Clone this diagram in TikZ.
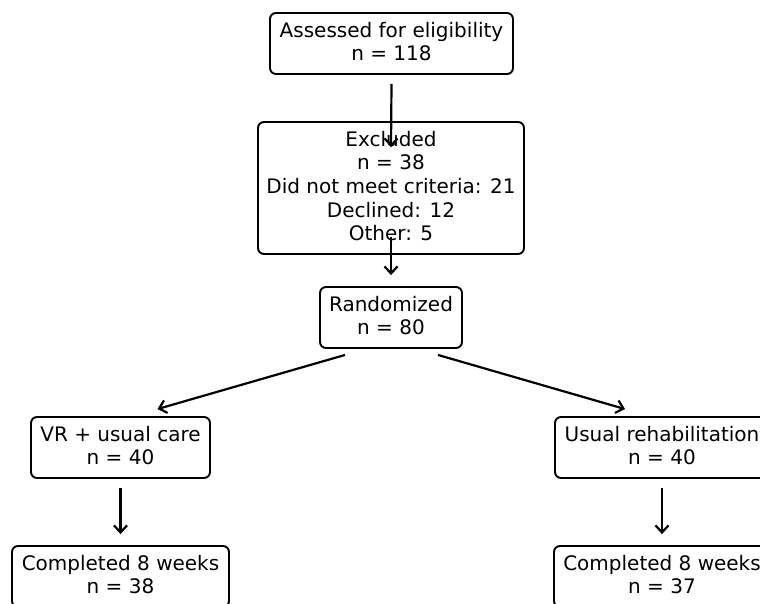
\documentclass[tikz,border=0pt]{standalone}
\usepackage{fontspec}
\setmainfont{DejaVu Sans}
\usetikzlibrary{arrows.meta,calc}
\begin{document}
\begin{tikzpicture}[x=1pt,y=-1pt,
  box/.style={draw, line width=1.9pt, rounded corners=6pt, align=center, inner sep=0pt,
    font=\fontsize{20}{23.7}\selectfont},
  arr/.style={-{Straight Barb[length=7pt,width=13pt,line width=2.2pt]}, line width=2.2pt}]
\useasboundingbox (0,0) rectangle (760,603);
\clip (0,0) rectangle (760,603);
\fill[white] (0,0) rectangle (760,603);
\node[box, minimum width=243pt, minimum height=61pt] (ass) at (391.5,43.5) {Assessed for eligibility\\n = 118\vphantom{p}};
\node[box, minimum width=266pt, minimum height=132pt] (exc) at (391,188) {Excluded\\n = 38\\Did not meet criteria: 21\\Declined: 12\\Other: 5\vphantom{p}};
\node[box, minimum width=142pt, minimum height=61pt] (ran) at (391,317.5) {Randomized\\n = 80\vphantom{p}};
\node[box, minimum width=179pt, minimum height=61pt] (vr) at (120.5,447.5) {VR + usual care\\n = 40\vphantom{p}};
\node[box, minimum width=214pt, minimum height=61pt] (ur) at (662,447.5) {Usual rehabilitation\\n = 40\vphantom{p}};
\node[box, minimum width=217pt, minimum height=61pt] (cl) at (120.5,576.5) {Completed 8 weeks\\n = 38\vphantom{p}};
\node[box, minimum width=216pt, minimum height=61pt] (cr) at (662,576.5) {Completed 8 weeks\\n = 37\vphantom{p}};
\draw[arr] ([yshift=-9pt]ass.south) -- ([yshift=-26pt]exc.north);
\draw[arr] ([yshift=18pt]exc.south) -- ([yshift=11pt]ran.north);
\draw[arr] ([shift={(-46pt,-6pt)}]ran.south) -- ([shift={(37pt,7pt)}]vr.north);
\draw[arr] ([shift={(47pt,-6pt)}]ran.south) -- ([shift={(-37pt,7pt)}]ur.north);
\draw[arr] ([yshift=-9pt]vr.south) -- ([yshift=11pt]cl.north);
\draw[arr] ([yshift=-9pt]ur.south) -- ([yshift=11pt]cr.north);
\end{tikzpicture}
\end{document}
